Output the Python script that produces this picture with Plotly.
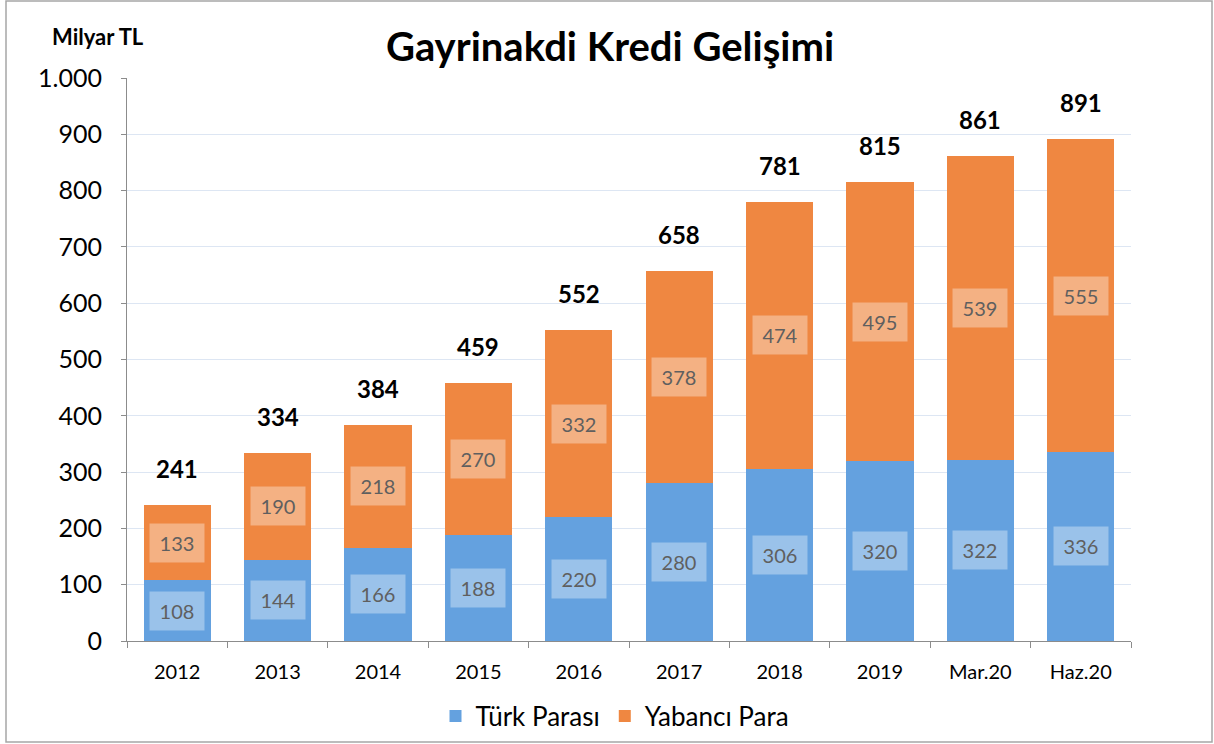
import plotly.graph_objects as go

categories = ["2012", "2013", "2014", "2015", "2016", "2017", "2018", "2019", "Mar.20", "Haz.20"]
turk_parasi = [108, 144, 166, 188, 220, 280, 306, 320, 322, 336]
yabanci_para = [133, 190, 218, 270, 332, 378, 474, 495, 539, 555]
totals = [241, 334, 384, 459, 552, 658, 781, 815, 861, 891]

FONT = "Lato"
BLUE = "#64a1df"
ORANGE = "#ef8741"

W, H = 1214, 744
ML, MR, MT, MB = 127, 83, 78, 103
PW, PH = W - ML - MR, H - MT - MB

fig = go.Figure()
fig.add_trace(go.Bar(x=categories, y=turk_parasi, name="Türk Parası",
                     marker=dict(color=BLUE, line=dict(width=0))))
fig.add_trace(go.Bar(x=categories, y=yabanci_para, name="Yabancı Para",
                     marker=dict(color=ORANGE, line=dict(width=0))))

annotations = []
for i, (tp, yp, tot) in enumerate(zip(turk_parasi, yabanci_para, totals)):
    for val, mid in ((tp, tp / 2), (yp, tp + yp / 2)):
        annotations.append(dict(x=i, y=mid, xref="x", yref="y", text=str(val), showarrow=False,
                                font=dict(family=FONT, size=20, color="#5f5f5f"),
                                bgcolor="rgba(255,255,255,0.35)", width=52, height=36,
                                xanchor="center", yanchor="middle"))
    annotations.append(dict(x=i, y=tp + yp, xref="x", yref="y", text=f"<b>{tot}</b>", showarrow=False,
                            font=dict(family=FONT, size=24, color="black"),
                            xanchor="center", yanchor="bottom", yshift=20))

annotations.append(dict(x=(98 - ML) / PW, y=(H - MB - 37) / PH, xref="paper", yref="paper",
                        text="<b>Milyar TL</b>", showarrow=False,
                        font=dict(family=FONT, size=22, color="black"),
                        xanchor="center", yanchor="middle"))

fig.update_layout(
    width=W, height=H,
    margin=dict(l=ML, r=MR, t=MT, b=MB, autoexpand=False),
    paper_bgcolor="white", plot_bgcolor="white",
    barmode="stack", bargap=0.33,
    separators=",.",
    font=dict(family=FONT, color="black"),
    title=dict(text="<b>Gayrinakdi Kredi Gelişimi</b>", x=610 / W, y=1 - 47 / H,
               xanchor="center", yanchor="middle",
               font=dict(family=FONT, size=40, color="black")),
    xaxis=dict(type="category", range=[-0.5, len(categories) - 0.5], automargin=False,
               showline=True, linecolor="#8c8c8c", linewidth=1,
               ticks="outside", ticklen=6, tickcolor="#8c8c8c", tickson="boundaries",
               tickfont=dict(family=FONT, size=20, color="black"), ticklabelstandoff=13,
               tickangle=0, showgrid=False),
    yaxis=dict(range=[0, 1000], dtick=100, tickformat=",d", automargin=False, showline=True,
               linecolor="#8c8c8c", linewidth=1, ticks="outside", ticklen=5,
               tickcolor="#8c8c8c", tickfont=dict(family=FONT, size=25, color="black"),
               ticklabelstandoff=14, showgrid=True, gridcolor="#dde6f3", gridwidth=1,
               zeroline=False),
    legend=dict(orientation="h", x=(615 - ML) / PW, y=(H - MB - 716) / PH,
                xanchor="center", yanchor="middle",
                font=dict(family=FONT, size=26, color="black"), traceorder="normal"),
    annotations=annotations,
    shapes=[dict(type="rect", xref="paper", yref="paper",
                 x0=(6 - ML) / PW, x1=(1212 - ML) / PW,
                 y0=(H - MB - 742) / PH, y1=(H - MB - 1) / PH,
                 line=dict(color="#a6a6a6", width=1.5), fillcolor="rgba(0,0,0,0)",
                 layer="below")],
)

fig.write_html("out.html", config={"displayModeBar": False},
               post_script="document.body.style.margin='0';document.body.style.overflow='hidden';")
